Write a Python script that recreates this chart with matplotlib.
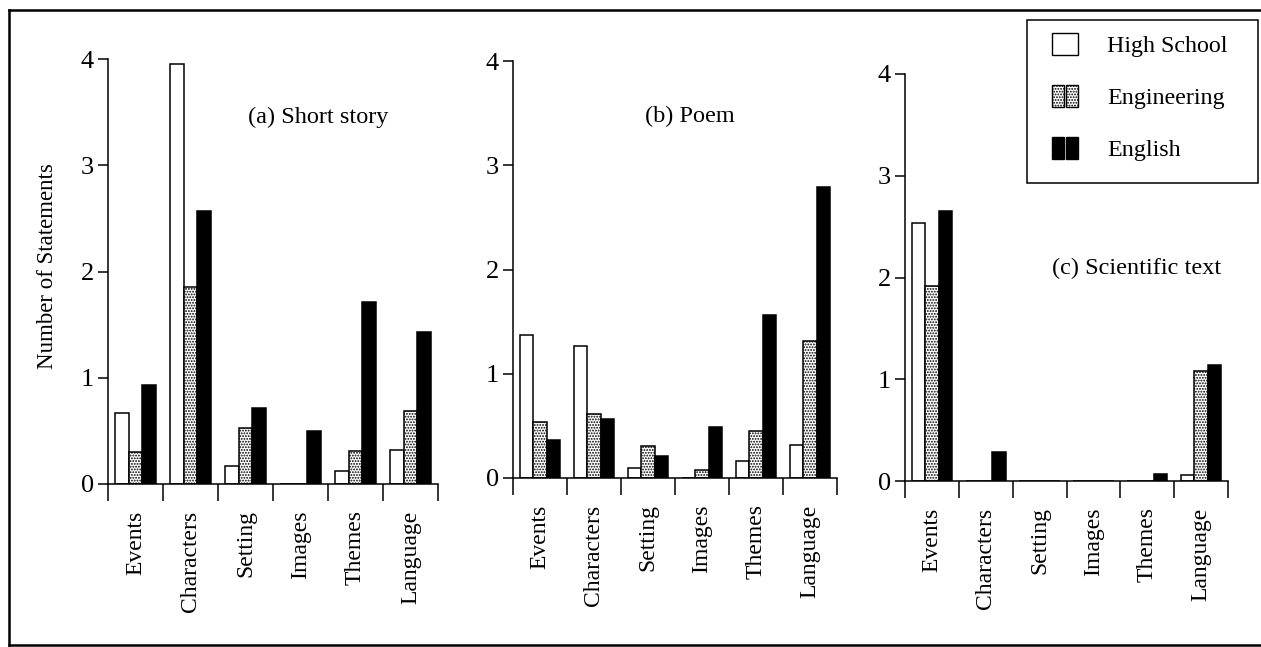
import matplotlib
matplotlib.use("Agg")
import matplotlib.pyplot as plt
import numpy as np
from matplotlib.patches import Rectangle
from matplotlib.lines import Line2D
from matplotlib.legend_handler import HandlerTuple

plt.rcParams['font.family'] = ['Liberation Serif', 'DejaVu Serif']
plt.rcParams['hatch.linewidth'] = 0.9

categories = ["Events", "Characters", "Setting", "Images", "Themes", "Language"]
groups = ["High School", "Engineering", "English"]
panel_titles = ["(a) Short story", "(b) Poem", "(c) Scientific text"]

short_story_high_school = [0.67, 3.95, 0.17, 0.0, 0.12, 0.32]
short_story_engineering = [0.30, 1.85, 0.53, 0.0, 0.31, 0.69]
short_story_english = [0.93, 2.57, 0.72, 0.50, 1.71, 1.43]

poem_high_school = [1.37, 1.27, 0.10, 0.0, 0.16, 0.32]
poem_engineering = [0.54, 0.61, 0.31, 0.08, 0.45, 1.31]
poem_english = [0.36, 0.57, 0.21, 0.49, 1.56, 2.79]

science_high_school = [2.54, 0.0, 0.0, 0.0, 0.0, 0.056]
science_engineering = [1.92, 0.0, 0.0, 0.0, 0.0, 1.08]
science_english = [2.65, 0.285, 0.0, 0.0, 0.066, 1.14]

y_ticks = [0, 1, 2, 3, 4]

W, H = 1261, 647
fig = plt.figure(figsize=(W / 100, H / 100), dpi=100)

def fx(px):
    return px / W

def fy(py):
    return 1 - py / H

# axes boxes in pixels: left, right, y0 (value 0), y4 (value 4)
boxes = [(108, 438, 484, 59), (513, 837, 478, 61), (905, 1228, 481, 74)]
title_pos = [(318, 117), (690, 116), (1137, 268)]
data = [
    (short_story_high_school, short_story_engineering, short_story_english),
    (poem_high_school, poem_engineering, poem_english),
    (science_high_school, science_engineering, science_english),
]

bar_w = 0.25
styles = [dict(facecolor="white", edgecolor="black", hatch=None),
          dict(facecolor="white", edgecolor="black", hatch="......"),
          dict(facecolor="black", edgecolor="black", hatch=None)]

x = np.arange(len(categories)) + 0.5
for (l, r, y0, y4), vals, title, (tx, ty) in zip(boxes, data, panel_titles, title_pos):
    ax = fig.add_axes([fx(l), fy(y0), (r - l) / W, (y0 - y4) / H])
    for i, (v, st) in enumerate(zip(vals, styles)):
        ax.bar(x + (i - 1) * bar_w, v, width=bar_w, linewidth=1.1, **st)
    ax.set_xlim(0, len(categories))
    ax.set_ylim(0, 4)
    for s in ["top", "right"]:
        ax.spines[s].set_visible(False)
    for s in ["left", "bottom"]:
        ax.spines[s].set_linewidth(1.1)
    ax.set_yticks(y_ticks)
    ax.set_yticklabels([str(t) for t in y_ticks], fontsize=19)
    ax.tick_params(axis="y", direction="out", length=7, width=1.1, pad=3)
    ax.set_xticks(np.arange(len(categories) + 1))
    ax.set_xticklabels([])
    ax.tick_params(axis="x", which="major", direction="out", length=12, width=1.1)
    ax.set_xticks(x, minor=True)
    ax.set_xticklabels(categories, minor=True, rotation=90, fontsize=17)
    ax.tick_params(axis="x", which="minor", length=0, pad=19)
    fig.text(fx(tx), fy(ty), title, fontsize=17.5, ha="center", va="center")

fig.text(fx(48), fy(266), "Number of Statements", rotation=90, fontsize=16.5,
         ha="center", va="center")

# outer frame (left, top, bottom)
for xs, ys in [((9, 9), (10, 645)), ((9, W), (10, 10)), ((9, W), (645, 645))]:
    fig.add_artist(Line2D([fx(a) for a in xs], [fy(b) for b in ys],
                          transform=fig.transFigure, color="black", linewidth=1.8))

# legend frame
fig.add_artist(Rectangle((fx(1027), fy(183)), (1258 - 1027) / W, (183 - 20) / H,
                         transform=fig.transFigure, facecolor="white",
                         edgecolor="black", linewidth=1.1, zorder=5))

h_hs = Rectangle((0, 0), 1, 1, **styles[0], linewidth=1.0)
h_en1 = Rectangle((0, 0), 1, 1, **styles[1], linewidth=1.0)
h_en2 = Rectangle((0, 0), 1, 1, **styles[1], linewidth=1.0)
h_eg1 = Rectangle((0, 0), 1, 1, **styles[2], linewidth=1.0)
h_eg2 = Rectangle((0, 0), 1, 1, **styles[2], linewidth=1.0)
leg = fig.legend([h_hs, (h_en1, h_en2), (h_eg1, h_eg2)], groups,
                 handler_map={tuple: HandlerTuple(ndivide=None, pad=0.1)},
                 loc="upper left", bbox_to_anchor=(fx(1052), fy(33)),
                 frameon=False, fontsize=17.3, borderpad=0, borderaxespad=0,
                 handlelength=1.1, handleheight=1.05, handletextpad=1.2,
                 labelspacing=1.15)
leg.set_zorder(6)

fig.savefig("out.png", dpi=100)
